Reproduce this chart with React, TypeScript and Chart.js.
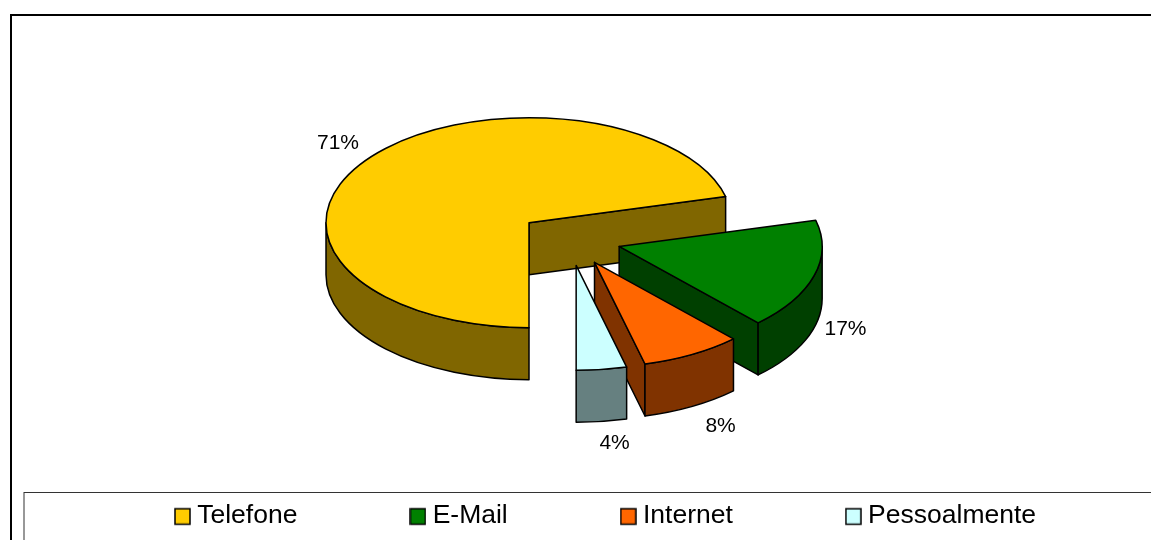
import React, { useEffect, useRef } from "react";
import { Chart, registerables } from "chart.js";

Chart.register(...registerables);

const categories = ["Telefone", "E-Mail", "Internet", "Pessoalmente"];
const shares = [71, 17, 8, 4];
const topColors = ["#FFCC00", "#008000", "#FF6600", "#CCFFFF"];
const sideColors = ["#806600", "#004000", "#803300", "#668080"];

const FONT = '"Liberation Sans", Arial, sans-serif';
const CENTER_X = 569.7;
const CENTER_Y = 239;
const TILT = 0.517;
const DEPTH = 52;
const RADIUS = 203;
const EXPLODE = 51.5;
const LABEL_RADIUS = 243;
const EDGE = 1.5;
const LABEL_NUDGE = [
  [1, -2],
  [-7, -4],
  [9, 2],
  [8, 1],
];

function swatch(color: string) {
  const c = document.createElement("canvas");
  c.width = 17;
  c.height = 22;
  const g = c.getContext("2d")!;
  g.fillStyle = color;
  g.fillRect(1, 4, 15, 15.5);
  g.strokeStyle = "#000";
  g.lineWidth = 1.5;
  g.strokeRect(1, 4, 15, 15.5);
  return c;
}

const pie3d = {
  id: "pie3d",
  beforeDraw(chart: any) {
    const { ctx, width, height } = chart;
    ctx.save();
    ctx.fillStyle = "#fff";
    ctx.fillRect(0, 0, width, height);
    ctx.strokeStyle = "#000";
    ctx.lineWidth = 2;
    ctx.strokeRect(11, 15, width + 50, height + 50);
    ctx.strokeStyle = "#333";
    ctx.lineWidth = 1;
    ctx.strokeRect(24, 492.5, width + 50, height + 50);
    ctx.restore();
  },
  afterLayout(chart: any) {
    const lg = chart.legend;
    const pad = lg.options.labels.padding;
    const h = lg.height;
    lg.top = 502.5 - pad;
    lg.bottom = lg.top + h;
    lg.left += 33;
    lg.right += 33;
  },
  beforeDatasetsDraw(chart: any) {
    const { ctx } = chart;
    const arcs = chart.getDatasetMeta(0).data;
    arcs.forEach((arc: any, i: number) => {
      const s = arc.startAngle;
      const e = arc.endAngle;
      const mid = (s + e) / 2;
      const r = arc.outerRadius;
      const ax = CENTER_X + Math.cos(mid) * EXPLODE;
      const ay = CENTER_Y + Math.sin(mid) * EXPLODE * TILT;
      const px = (a: number) => ax + Math.cos(a) * r;
      const py = (a: number) => ay + Math.sin(a) * r * TILT;

      ctx.save();
      ctx.lineWidth = EDGE;
      ctx.lineJoin = "round";
      ctx.strokeStyle = "#000";
      ctx.fillStyle = sideColors[i];

      // cut faces turned toward the viewer
      [
        [s, -Math.cos(s)],
        [e, Math.cos(e)],
      ].forEach(([a, facing]) => {
        if (facing > 1e-6) {
          ctx.beginPath();
          ctx.moveTo(ax, ay);
          ctx.lineTo(px(a), py(a));
          ctx.lineTo(px(a), py(a) + DEPTH);
          ctx.lineTo(ax, ay + DEPTH);
          ctx.closePath();
          ctx.fill();
          ctx.stroke();
        }
      });

      // outer wall, front half only
      [0, Math.PI * 2].forEach((base) => {
        const a1 = Math.max(s, base);
        const a2 = Math.min(e, base + Math.PI);
        if (a2 > a1) {
          ctx.beginPath();
          ctx.ellipse(ax, ay, r, r * TILT, 0, a1, a2);
          ctx.ellipse(ax, ay + DEPTH, r, r * TILT, 0, a2, a1, true);
          ctx.closePath();
          ctx.fill();
          ctx.stroke();
        }
      });

      // top face: the library's own arc, flattened and pulled out
      ctx.save();
      ctx.translate(ax, ay);
      ctx.scale(1, TILT);
      ctx.translate(-arc.x, -arc.y);
      arc.draw(ctx);
      ctx.restore();

      ctx.beginPath();
      ctx.moveTo(ax, ay);
      ctx.ellipse(ax, ay, r, r * TILT, 0, s, e);
      ctx.closePath();
      ctx.stroke();
      ctx.restore();
    });

    arcs.forEach((arc: any, i: number) => {
      const mid = (arc.startAngle + arc.endAngle) / 2;
      const dx = Math.cos(mid);
      const dy = Math.sin(mid);
      const x = CENTER_X + dx * (EXPLODE + LABEL_RADIUS) + LABEL_NUDGE[i][0];
      const y =
        CENTER_Y + dy * (EXPLODE + LABEL_RADIUS) * TILT + (dy > 0 ? DEPTH : 0) + LABEL_NUDGE[i][1];
      ctx.save();
      ctx.fillStyle = "#000";
      ctx.font = `21px ${FONT}`;
      ctx.textAlign = "center";
      ctx.textBaseline = "middle";
      ctx.fillText(`${shares[i]}%`, x, y);
      ctx.restore();
    });
    return false;
  },
};

export default function App() {
  const ref = useRef<HTMLCanvasElement>(null);
  useEffect(() => {
    const marks = topColors.map(swatch);
    const chart = new Chart(ref.current!, {
      type: "pie",
      data: {
        labels: categories,
        datasets: [
          {
            data: shares,
            backgroundColor: topColors,
            borderWidth: 0,
          },
        ],
      },
      plugins: [pie3d],
      options: {
        animation: false,
        responsive: false,
        rotation: 180,
        radius: RADIUS,
        plugins: {
          tooltip: { enabled: false },
          legend: {
            position: "bottom",
            labels: {
              usePointStyle: true,
              boxWidth: 3,
              padding: 119,
              color: "#000",
              font: { family: FONT, size: 26.5 },
              generateLabels: () =>
                categories.map((text, i) => ({
                  text,
                  pointStyle: marks[i],
                  fillStyle: topColors[i],
                  strokeStyle: "#000",
                  lineWidth: 0,
                  hidden: false,
                  index: i,
                })),
            },
          },
        },
      },
    } as any);
    return () => chart.destroy();
  }, []);
  return (
    <div style={{ position: "fixed", left: 0, top: 0, width: 1151, height: 540, overflow: "hidden" }}>
      <canvas ref={ref} width={1151} height={540} style={{ display: "block" }} />
    </div>
  );
}
